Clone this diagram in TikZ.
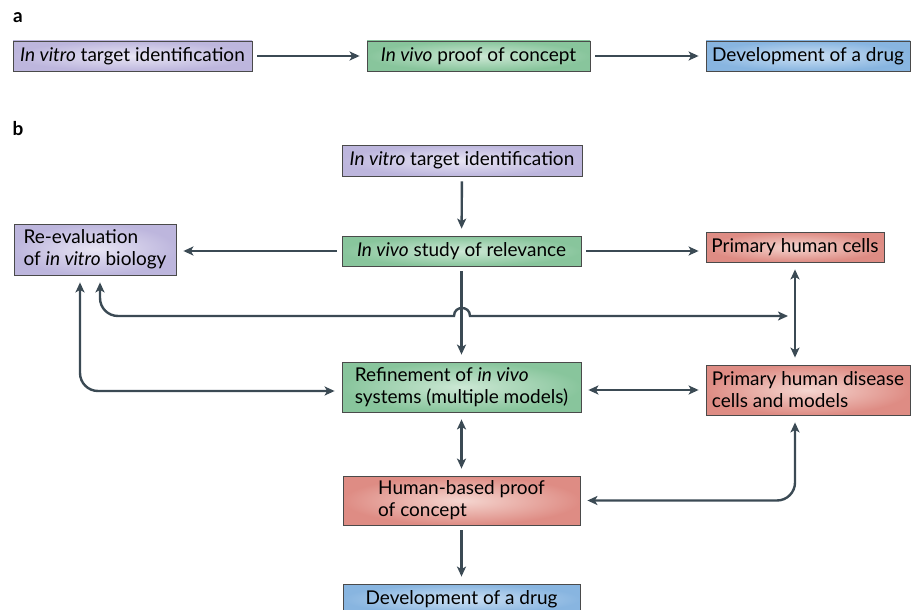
\documentclass[tikz,border=0pt]{standalone}
\usepackage{fontspec}
\setmainfont{Lato}
\usetikzlibrary{arrows.meta,positioning,calc}
\definecolor{linegray}{HTML}{3B4A54}
\definecolor{framegray}{HTML}{4A4A4A}
\definecolor{vitroout}{HTML}{BDB6DD}
\definecolor{vitroin}{HTML}{E8E5F4}
\definecolor{vivoout}{HTML}{88C59C}
\definecolor{vivoin}{HTML}{CDE8D5}
\definecolor{humanout}{HTML}{DE8C84}
\definecolor{humanin}{HTML}{F5D6D0}
\definecolor{drugout}{HTML}{88B5E0}
\definecolor{drugin}{HTML}{CCE0F4}
\tikzset{
  basebox/.style={draw=framegray, line width=0.8pt, align=left, inner sep=4pt, font=\fontsize{19}{22}\selectfont},
  vitrobox/.style={basebox, inner color=vitroin, outer color=vitroout},
  vivobox/.style={basebox, inner color=vivoin, outer color=vivoout},
  humanbox/.style={basebox, inner color=humanin, outer color=humanout},
  drugbox/.style={basebox, inner color=drugin, outer color=drugout},
  panel/.style={font=\fontsize{19}{19}\selectfont\bfseries},
  arrow/.style={-{Stealth[length=10pt,width=9pt,inset=2.5pt]}, line width=2.4pt, draw=linegray, shorten <=5pt, shorten >=7pt},
  dblarrow/.style={arrow, {Stealth[length=10pt,width=9pt,inset=2.5pt]}-{Stealth[length=10pt,width=9pt,inset=2.5pt]}, shorten <=7pt}
}
\begin{document}
\begin{tikzpicture}[x=1pt, y=-1pt]
  \useasboundingbox (0,0) rectangle (921,610);

  % panel a
  \node[panel] (labela) at (18,18) {a};
  \node[vitrobox, minimum width=239pt, minimum height=30pt] (avitro) at (132.5,56) {\textit{In vitro} target identification};
  \node[vivobox, minimum width=223pt, minimum height=30pt] (avivo) at (478.5,56) {\textit{In vivo} proof of concept};
  \node[drugbox, minimum width=204pt, minimum height=30pt] (adrug) at (808,56) {Development of a drug};

  \draw[arrow] (avitro) -- (avivo);
  \draw[arrow] (avivo) -- (adrug);

  % panel b
  \node[panel] (labelb) at (18,129) {b};
  \node[vitrobox, minimum width=240pt, minimum height=31pt] (target) at (462,160.5) {\textit{In vitro} target identification};
  \node[vivobox, minimum width=239pt, minimum height=30pt] (study) at (461.5,251) {\textit{In vivo} study of relevance};
  \node[vitrobox, minimum width=162pt, minimum height=51pt] (reeval) at (95,249.5) {Re-evaluation\\of \textit{in vitro} biology};
  \node[humanbox, minimum width=178pt, minimum height=30pt] (cells) at (795,247) {Primary human cells};
  \node[vivobox, minimum width=239pt, minimum height=50pt] (refine) at (461.5,387) {Refinement of \textit{in vivo}\\systems (multiple models)};
  \node[humanbox, minimum width=204pt, minimum height=50pt] (disease) at (808,390) {Primary human disease\\cells and models};
  \node[humanbox, minimum width=237pt, minimum height=49pt] (proof) at (461.5,500.5) {Human-based proof\\of concept};
  \node[drugbox, minimum width=237pt, minimum height=30pt] (drug) at (461.5,599) {Development of a drug};
  \coordinate (hop) at (462,316);
  \coordinate (lowleft) at (100,316);

  \draw[arrow] (target) -- (study);
  \draw[arrow] (study.west) -- (reeval.east |- study.west);
  \draw[arrow] (study.east) -- (cells.west |- study.east);
  \draw[arrow] (study) -- (refine);
  \draw[dblarrow] (cells) -- (cells.south |- disease.north);
  \draw[dblarrow] (reeval.south -| lowleft) -- ([yshift=18pt]lowleft) .. controls +(0,10) and +(-10,0) .. ([xshift=18pt]lowleft) -- ([xshift=-8pt]hop) .. controls +(0,-10.7) and +(0,-10.7) .. ([xshift=8pt]hop) -- (hop -| cells.south);
  \draw[dblarrow, rounded corners=18pt] ([xshift=-15pt]reeval.south) |- ([yshift=-4pt]refine.west);
  \draw[dblarrow] (refine.east |- disease.west) -- (disease.west);
  \draw[dblarrow] (refine) -- (proof);
  \draw[dblarrow, rounded corners=18pt] (cells.south |- disease.south) |- (proof.east);
  \draw[arrow] (proof) -- (drug);
\end{tikzpicture}
\end{document}
